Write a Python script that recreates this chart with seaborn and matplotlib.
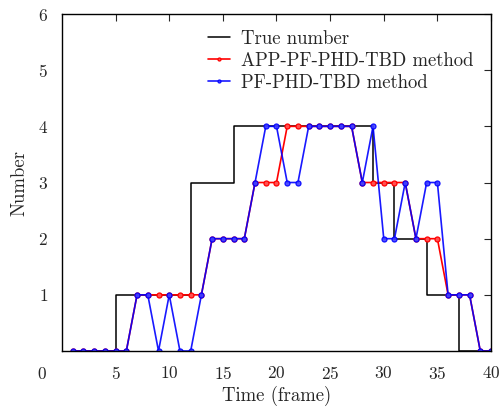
import numpy as np
import pandas as pd
import matplotlib
matplotlib.use('Agg')
import matplotlib.pyplot as plt
import seaborn as sns

# Données
frames = list(range(1, 41))
true_num = [0, 0, 0, 0, 1, 1, 1, 1, 1, 1, 1, 3, 3, 3, 3, 4, 4, 4, 4, 4,
            4, 4, 4, 4, 4, 4, 4, 4, 3, 3, 2, 2, 2, 1, 1, 1, 0, 0, 0, 0]
app_pf = [0, 0, 0, 0, 0, 0, 1, 1, 1, 1, 1, 1, 1, 2, 2, 2, 2, 3, 3, 3,
          4, 4, 4, 4, 4, 4, 4, 3, 3, 3, 3, 3, 2, 2, 2, 1, 1, 1, 0, 0]
pf_phd = [0, 0, 0, 0, 0, 0, 1, 1, 0, 1, 0, 0, 1, 2, 2, 2, 2, 3, 4, 4,
          3, 3, 4, 4, 4, 4, 4, 3, 4, 2, 2, 3, 2, 3, 3, 1, 1, 1, 0, 0]
x_ticks = [5, 10, 15, 20, 25, 30, 35, 40]
y_ticks = [1, 2, 3, 4, 5, 6]

df = pd.DataFrame({'frame': frames, 'true': true_num, 'app': app_pf, 'pf': pf_phd})

sns.set_style('white')
plt.rcParams['font.family'] = 'serif'
plt.rcParams['font.serif'] = ['cmr10', 'DejaVu Serif']
plt.rcParams['axes.formatter.use_mathtext'] = True
fs = 13.5   # labels / légende
fs_tick = 12.5

fig = plt.figure(figsize=(4.99, 4.12), dpi=100)
ax = fig.add_axes([0.1242, 0.148, 0.8598, 0.818])

sns.lineplot(data=df, x='frame', y='true', ax=ax, color='black', lw=1.1,
             drawstyle='steps-post', label='True number')
sns.lineplot(data=df, x='frame', y='app', ax=ax, color='red', lw=1.2,
             marker='o', markersize=3.6, markeredgewidth=0.9, markeredgecolor='red',
             markerfacecolor='#ff5050', label='APP-PF-PHD-TBD method')
sns.lineplot(data=df, x='frame', y='pf', ax=ax, color='blue', lw=1.2, alpha=0.9,
             marker='o', markersize=3.6, markeredgewidth=0.9, markeredgecolor='blue',
             markerfacecolor='#4040ff', label='PF-PHD-TBD method')

ax.set_xlim(0, 40)
ax.set_ylim(0, 6)
ax.set_xticks(x_ticks)
ax.set_yticks(y_ticks)
ax.tick_params(direction='in', top=True, right=True, length=5, width=0.8, pad=10, labelsize=fs_tick)
for s in ax.spines.values():
    s.set_linewidth(1.0)
    s.set_color('black')
# le "0" commun dans le coin
ax.text(-0.047, -0.07, '0', transform=ax.transAxes, ha='center', va='center', fontsize=fs_tick)

ax.set_xlabel('Time (frame)', fontsize=fs, labelpad=3)
ax.set_ylabel('Number', fontsize=fs, labelpad=7)

leg = ax.legend(loc='upper left', bbox_to_anchor=(0.302, 1.003), frameon=False,
                fontsize=fs, handlelength=1.17, handletextpad=0.55, labelspacing=0.22,
                markerscale=0.6)

fig.savefig('out.png', dpi=100)
